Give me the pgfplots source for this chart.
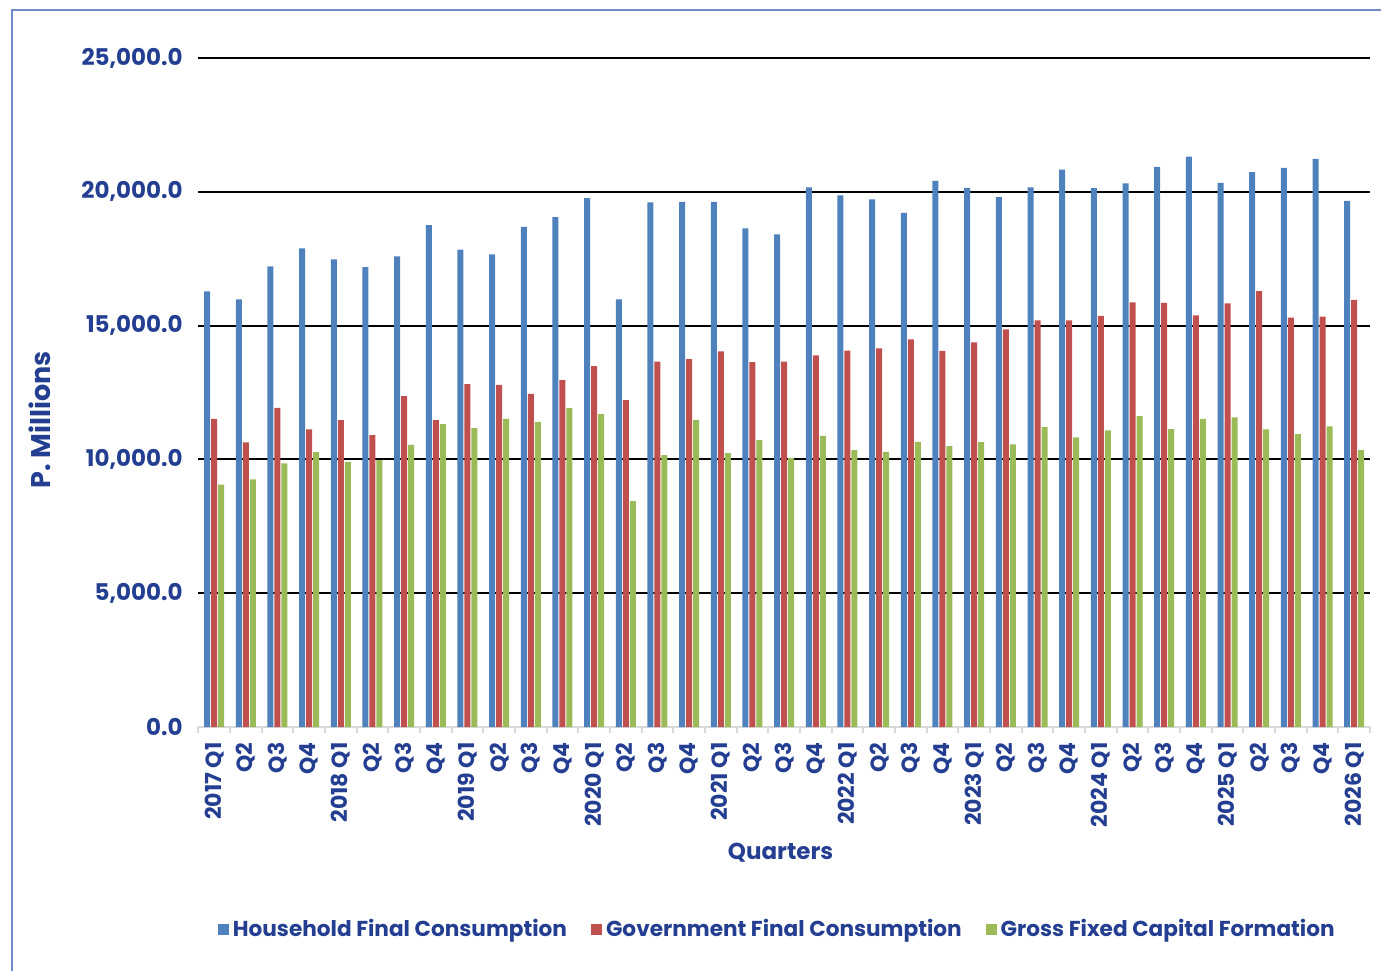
\documentclass[border=0pt]{standalone}
\usepackage{pgfplots}
\pgfplotsset{compat=1.18}
\usepackage{pgfplotstable}
\usepackage{fontspec}
\setmainfont{Poppins}

\definecolor{hfc}{HTML}{4F81BD}
\definecolor{gfc}{HTML}{C0504D}
\definecolor{gfcf}{HTML}{9BBB59}
\definecolor{navy}{HTML}{243F91}
\definecolor{frame}{HTML}{6E8CCB}

% quarterly values, P. millions
\pgfplotstableread{
idx hfc gfc gfcf
0 16280 11516 9053
1 15982 10633 9252
2 17213 11926 9849
3 17885 11118 10272
4 17475 11466 9911
5 17189 10906 9973
6 17587 12362 10546
7 18756 11466 11317
8 17835 12810 11168
9 17661 12785 11516
10 18694 12449 11404
11 19055 12959 11914
12 19764 13482 11690
13 15982 12213 8443
14 19602 13656 10160
15 19627 13743 11479
16 19627 14041 10235
17 18632 13631 10720
18 18408 13656 10060
19 20162 13892 10882
20 19863 14066 10347
21 19714 14153 10285
22 19216 14489 10658
23 20410 14054 10496
24 20149 14377 10650
25 19801 14862 10558
26 20162 15198 11205
27 20833 15198 10819
28 20137 15360 11081
29 20311 15870 11615
30 20933 15845 11130
31 21319 15385 11516
32 20336 15833 11566
33 20734 16293 11118
34 20896 15298 10944
35 21232 15335 11230
36 19664 15957 10347
}\datatable

\begin{document}
\begin{tikzpicture}
\path[use as bounding box] (0,0) rectangle (690.5pt,485.5pt);
\draw[frame, line width=0.6pt] (6pt,0) -- (6pt,480.5pt) -- (690.5pt,480.5pt);
\begin{axis}[
  at={(99.15pt,122pt)}, anchor=south west,
  scale only axis,
  width=585.85pt, height=334.5pt,
  ybar=0.5pt, bar width=3pt,
  xmin=-0.5, xmax=36.5,
  ymin=0, ymax=25000,
  axis lines*=left,
  y axis line style={draw=none},
  x axis line style={draw=black!15, line width=1pt},
  xtick=data,
  xticklabels={2017 Q1,Q2,Q3,Q4,2018 Q1,Q2,Q3,Q4,2019 Q1,Q2,Q3,Q4,2020 Q1,Q2,Q3,Q4,2021 Q1,Q2,Q3,Q4,2022 Q1,Q2,Q3,Q4,2023 Q1,Q2,Q3,Q4,2024 Q1,Q2,Q3,Q4,2025 Q1,Q2,Q3,Q4,2026 Q1},
  major x tick style={draw=none},
  minor xtick={-0.5,0.5,...,36.5},
  minor x tick style={draw=black!15, line width=1pt},
  minor tick length=3pt,
  tick align=outside,
  xticklabel style={rotate=90, anchor=east, font=\fontsize{11}{12}\selectfont\bfseries, text=navy},
  ytick={0,5000,...,25000},
  scaled y ticks=false,
  major y tick style={draw=none},
  yticklabel style={font=\fontsize{11.5}{13}\selectfont\bfseries, text=navy},
  /pgf/number format/.cd, fixed, fixed zerofill, precision=1, 1000 sep={,}, assume math mode=true,
  /pgfplots/.cd,
  extra y ticks={5000,10000,15000,20000,25000},
  extra y tick labels={},
  extra y tick style={grid=major, major grid style={black, line width=1pt}},
  xlabel={Quarters},
  xlabel style={at={(axis description cs:0.497,-0.188)}, anchor=center, font=\fontsize{11.5}{13}\selectfont\bfseries, text=navy},
  ylabel={P. Millions},
  ylabel style={at={(axis description cs:-0.135,0.459)}, anchor=center, font=\fontsize{13.5}{15}\selectfont\bfseries, text=navy},
  legend columns=3,
  legend style={at={(axis description cs:0.495,-0.303)}, anchor=center, draw=none,
    font=\fontsize{10.8}{12}\selectfont\bfseries, text=navy,
    /tikz/every even column/.append style={column sep=10pt}},
  legend image code/.code={\fill[#1] (0pt,-2.6pt) rectangle (5.5pt,2.9pt);},
]
\addplot[fill=hfc, draw=none] table[x=idx, y=hfc] {\datatable};
\addplot[fill=gfc, draw=none] table[x=idx, y=gfc] {\datatable};
\addplot[fill=gfcf, draw=none] table[x=idx, y=gfcf] {\datatable};
\legend{Household Final Consumption, Government Final Consumption, Gross Fixed Capital Formation}
\end{axis}
\end{tikzpicture}
\end{document}
